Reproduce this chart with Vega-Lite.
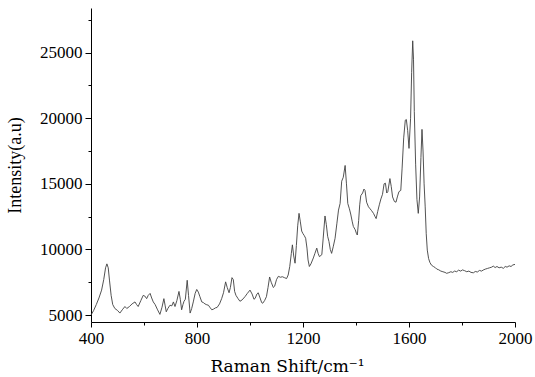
{
  "$schema": "https://vega.github.io/schema/vega-lite/v6.json",
  "width": 424,
  "height": 314,
  "autosize": {"type": "none"},
  "padding": {"left": 91, "top": 8, "right": 20, "bottom": 55},
  "background": "white",
  "config": {"view": {"stroke": null}},
  "data": {"values": [
    {"shift": 400, "intensity": 5000}, {"shift": 410, "intensity": 5350}, {"shift": 420, "intensity": 5800}, {"shift": 430, "intensity": 6300},
    {"shift": 440, "intensity": 6900}, {"shift": 448, "intensity": 7700}, {"shift": 455, "intensity": 8600}, {"shift": 460, "intensity": 8900},
    {"shift": 465, "intensity": 8600}, {"shift": 470, "intensity": 7600}, {"shift": 476, "intensity": 6500}, {"shift": 482, "intensity": 5800},
    {"shift": 490, "intensity": 5500}, {"shift": 500, "intensity": 5350}, {"shift": 509, "intensity": 5150}, {"shift": 518, "intensity": 5400},
    {"shift": 528, "intensity": 5650}, {"shift": 535, "intensity": 5500}, {"shift": 545, "intensity": 5650}, {"shift": 555, "intensity": 5850},
    {"shift": 566, "intensity": 6000}, {"shift": 572, "intensity": 5800}, {"shift": 578, "intensity": 5650}, {"shift": 588, "intensity": 6100},
    {"shift": 597, "intensity": 6500}, {"shift": 603, "intensity": 6450}, {"shift": 610, "intensity": 6250}, {"shift": 616, "intensity": 6500},
    {"shift": 623, "intensity": 6650}, {"shift": 629, "intensity": 6300}, {"shift": 635, "intensity": 6000}, {"shift": 642, "intensity": 5800},
    {"shift": 650, "intensity": 5450}, {"shift": 660, "intensity": 5050}, {"shift": 668, "intensity": 5600}, {"shift": 675, "intensity": 6250},
    {"shift": 680, "intensity": 5700}, {"shift": 684, "intensity": 5250}, {"shift": 690, "intensity": 5500}, {"shift": 698, "intensity": 5750},
    {"shift": 705, "intensity": 5700}, {"shift": 711, "intensity": 6000}, {"shift": 717, "intensity": 5650}, {"shift": 724, "intensity": 6100},
    {"shift": 732, "intensity": 6800}, {"shift": 737, "intensity": 6200}, {"shift": 742, "intensity": 5400}, {"shift": 747, "intensity": 5800},
    {"shift": 751, "intensity": 6050}, {"shift": 756, "intensity": 6200}, {"shift": 763, "intensity": 7650}, {"shift": 768, "intensity": 6500},
    {"shift": 774, "intensity": 5150}, {"shift": 780, "intensity": 5500}, {"shift": 786, "intensity": 6000}, {"shift": 793, "intensity": 6650},
    {"shift": 799, "intensity": 6950}, {"shift": 805, "intensity": 6750}, {"shift": 811, "intensity": 6400}, {"shift": 818, "intensity": 6000},
    {"shift": 824, "intensity": 5950}, {"shift": 830, "intensity": 5850}, {"shift": 837, "intensity": 5780}, {"shift": 843, "intensity": 5750},
    {"shift": 850, "intensity": 5550}, {"shift": 856, "intensity": 5400}, {"shift": 862, "intensity": 5450}, {"shift": 870, "intensity": 5550},
    {"shift": 876, "intensity": 5580}, {"shift": 885, "intensity": 5850}, {"shift": 893, "intensity": 6250}, {"shift": 900, "intensity": 6700},
    {"shift": 908, "intensity": 7530}, {"shift": 914, "intensity": 7100}, {"shift": 921, "intensity": 6700}, {"shift": 926, "intensity": 7100},
    {"shift": 932, "intensity": 7850}, {"shift": 937, "intensity": 7700}, {"shift": 942, "intensity": 6800}, {"shift": 947, "intensity": 6500},
    {"shift": 955, "intensity": 6250}, {"shift": 962, "intensity": 6050}, {"shift": 970, "intensity": 6150}, {"shift": 981, "intensity": 6400},
    {"shift": 990, "intensity": 6650}, {"shift": 1000, "intensity": 6900}, {"shift": 1008, "intensity": 6600}, {"shift": 1015, "intensity": 6200},
    {"shift": 1020, "intensity": 6300}, {"shift": 1026, "intensity": 6600}, {"shift": 1031, "intensity": 6700}, {"shift": 1038, "intensity": 6300},
    {"shift": 1044, "intensity": 5950}, {"shift": 1048, "intensity": 5900}, {"shift": 1055, "intensity": 6100}, {"shift": 1062, "intensity": 6400},
    {"shift": 1068, "intensity": 7100}, {"shift": 1074, "intensity": 7900}, {"shift": 1080, "intensity": 7500}, {"shift": 1088, "intensity": 7100},
    {"shift": 1093, "intensity": 7200}, {"shift": 1100, "intensity": 7700}, {"shift": 1107, "intensity": 7950}, {"shift": 1115, "intensity": 7880},
    {"shift": 1122, "intensity": 7920}, {"shift": 1130, "intensity": 7850}, {"shift": 1138, "intensity": 7780}, {"shift": 1144, "intensity": 8050},
    {"shift": 1150, "intensity": 8700}, {"shift": 1156, "intensity": 9700}, {"shift": 1160, "intensity": 10350}, {"shift": 1165, "intensity": 9500},
    {"shift": 1170, "intensity": 8950}, {"shift": 1175, "intensity": 10300}, {"shift": 1180, "intensity": 11800}, {"shift": 1185, "intensity": 12750},
    {"shift": 1190, "intensity": 12100}, {"shift": 1195, "intensity": 11400}, {"shift": 1200, "intensity": 11200}, {"shift": 1205, "intensity": 11050},
    {"shift": 1210, "intensity": 10850}, {"shift": 1215, "intensity": 10100}, {"shift": 1219, "intensity": 9200}, {"shift": 1224, "intensity": 8700},
    {"shift": 1230, "intensity": 8900}, {"shift": 1239, "intensity": 9350}, {"shift": 1245, "intensity": 9700}, {"shift": 1252, "intensity": 10100},
    {"shift": 1257, "intensity": 9700}, {"shift": 1262, "intensity": 9450}, {"shift": 1271, "intensity": 9600}, {"shift": 1276, "intensity": 10800},
    {"shift": 1283, "intensity": 12550}, {"shift": 1288, "intensity": 11900}, {"shift": 1293, "intensity": 11000}, {"shift": 1298, "intensity": 10600},
    {"shift": 1303, "intensity": 10000}, {"shift": 1308, "intensity": 9700}, {"shift": 1314, "intensity": 10200}, {"shift": 1321, "intensity": 10850},
    {"shift": 1328, "intensity": 12000}, {"shift": 1334, "intensity": 13000}, {"shift": 1340, "intensity": 13500}, {"shift": 1346, "intensity": 15200},
    {"shift": 1352, "intensity": 15500}, {"shift": 1359, "intensity": 16400}, {"shift": 1364, "intensity": 15000}, {"shift": 1369, "intensity": 13500},
    {"shift": 1375, "intensity": 13100}, {"shift": 1380, "intensity": 12700}, {"shift": 1386, "intensity": 12100}, {"shift": 1390, "intensity": 11750},
    {"shift": 1397, "intensity": 11500}, {"shift": 1402, "intensity": 11200}, {"shift": 1405, "intensity": 11100}, {"shift": 1410, "intensity": 12200},
    {"shift": 1414, "intensity": 13400}, {"shift": 1418, "intensity": 14100}, {"shift": 1425, "intensity": 14300}, {"shift": 1430, "intensity": 14600},
    {"shift": 1434, "intensity": 14500}, {"shift": 1440, "intensity": 13600}, {"shift": 1447, "intensity": 13250}, {"shift": 1453, "intensity": 13100},
    {"shift": 1459, "intensity": 12950}, {"shift": 1466, "intensity": 12750}, {"shift": 1472, "intensity": 12500}, {"shift": 1476, "intensity": 12350},
    {"shift": 1482, "intensity": 12900}, {"shift": 1488, "intensity": 13400}, {"shift": 1494, "intensity": 13850}, {"shift": 1500, "intensity": 14200},
    {"shift": 1506, "intensity": 15000}, {"shift": 1511, "intensity": 15050}, {"shift": 1516, "intensity": 14300}, {"shift": 1520, "intensity": 14400},
    {"shift": 1528, "intensity": 15400}, {"shift": 1533, "intensity": 14800}, {"shift": 1538, "intensity": 14000}, {"shift": 1545, "intensity": 13650},
    {"shift": 1551, "intensity": 13600}, {"shift": 1556, "intensity": 14000}, {"shift": 1562, "intensity": 14400}, {"shift": 1569, "intensity": 14500},
    {"shift": 1574, "intensity": 16200}, {"shift": 1580, "intensity": 18500}, {"shift": 1586, "intensity": 19850}, {"shift": 1590, "intensity": 19900},
    {"shift": 1595, "intensity": 19050}, {"shift": 1600, "intensity": 17700}, {"shift": 1606, "intensity": 20000}, {"shift": 1610, "intensity": 23500},
    {"shift": 1614, "intensity": 25900}, {"shift": 1617, "intensity": 24500}, {"shift": 1620, "intensity": 20500}, {"shift": 1625, "intensity": 16500},
    {"shift": 1630, "intensity": 13800}, {"shift": 1635, "intensity": 12750}, {"shift": 1640, "intensity": 14000}, {"shift": 1645, "intensity": 17000},
    {"shift": 1649, "intensity": 19150}, {"shift": 1653, "intensity": 17500}, {"shift": 1657, "intensity": 15000}, {"shift": 1661, "intensity": 13300},
    {"shift": 1665, "intensity": 11200}, {"shift": 1669, "intensity": 9950}, {"shift": 1674, "intensity": 9300}, {"shift": 1679, "intensity": 9000},
    {"shift": 1685, "intensity": 8800}, {"shift": 1692, "intensity": 8700}, {"shift": 1700, "intensity": 8600}, {"shift": 1705, "intensity": 8500},
    {"shift": 1712, "intensity": 8450}, {"shift": 1720, "intensity": 8350}, {"shift": 1728, "intensity": 8300}, {"shift": 1736, "intensity": 8250},
    {"shift": 1742, "intensity": 8180}, {"shift": 1750, "intensity": 8230}, {"shift": 1758, "intensity": 8300}, {"shift": 1765, "intensity": 8250},
    {"shift": 1772, "intensity": 8350}, {"shift": 1780, "intensity": 8300}, {"shift": 1787, "intensity": 8420}, {"shift": 1795, "intensity": 8350},
    {"shift": 1802, "intensity": 8440}, {"shift": 1810, "intensity": 8380}, {"shift": 1818, "intensity": 8300}, {"shift": 1826, "intensity": 8350},
    {"shift": 1834, "intensity": 8250}, {"shift": 1843, "intensity": 8220}, {"shift": 1850, "intensity": 8320}, {"shift": 1858, "intensity": 8280},
    {"shift": 1866, "intensity": 8400}, {"shift": 1874, "intensity": 8350}, {"shift": 1880, "intensity": 8430}, {"shift": 1888, "intensity": 8500},
    {"shift": 1896, "intensity": 8550}, {"shift": 1904, "intensity": 8600}, {"shift": 1912, "intensity": 8650}, {"shift": 1918, "intensity": 8730},
    {"shift": 1925, "intensity": 8620}, {"shift": 1932, "intensity": 8700}, {"shift": 1940, "intensity": 8600}, {"shift": 1948, "intensity": 8650},
    {"shift": 1956, "intensity": 8560}, {"shift": 1963, "intensity": 8700}, {"shift": 1970, "intensity": 8650}, {"shift": 1978, "intensity": 8750},
    {"shift": 1985, "intensity": 8700}, {"shift": 1992, "intensity": 8820}, {"shift": 2000, "intensity": 8860}
  ]},
  "layer": [
    {
      "mark": {"type": "line", "stroke": "#404040", "strokeWidth": 0.9},
      "encoding": {
        "x": {"field": "shift", "type": "quantitative",
          "scale": {"domain": [400, 2000], "nice": false, "zero": false},
          "axis": {"orient": "bottom", "values": [400, 800, 1200, 1600, 2000], "title": "Raman Shift/cm⁻¹",
            "grid": false, "domainColor": "black", "tickColor": "black", "tickSize": 5, "labelPadding": 3,
            "labelFont": "Liberation Serif", "labelFontSize": 17, "labelColor": "black", "labelFlush": false,
            "titleFont": "DejaVu Serif", "titleFontSize": 17, "titleFontWeight": "normal", "titleColor": "black",
            "titlePadding": 12, "titleX": 196, "format": "d"}},
        "y": {"field": "intensity", "type": "quantitative",
          "scale": {"domain": [4470, 28400], "nice": false, "zero": false},
          "axis": {"orient": "left", "values": [5000, 10000, 15000, 20000, 25000], "title": "Intensity(a.u)",
            "grid": false, "domainColor": "black", "tickColor": "black", "tickSize": 6, "labelPadding": 3,
            "labelFont": "Liberation Serif", "labelFontSize": 17, "labelColor": "black", "labelFlush": false,
            "titleFont": "Liberation Serif", "titleFontSize": 18, "titleFontWeight": "normal", "titleColor": "black",
            "titlePadding": 15, "format": "d"}}
      }
    },
    {
      "mark": {"type": "line", "strokeOpacity": 0},
      "encoding": {
        "x": {"field": "shift", "type": "quantitative",
          "axis": {"orient": "bottom", "values": [600, 1000, 1400, 1800], "title": null, "labels": false,
            "domain": false, "grid": false, "tickColor": "black", "tickSize": 3}},
        "y": {"field": "intensity", "type": "quantitative",
          "axis": {"orient": "left", "values": [7500, 12500, 17500, 22500, 27500], "title": null, "labels": false,
            "domain": false, "grid": false, "tickColor": "black", "tickSize": 3}}
      }
    }
  ],
  "resolve": {"axis": {"x": "independent", "y": "independent"}}
}
